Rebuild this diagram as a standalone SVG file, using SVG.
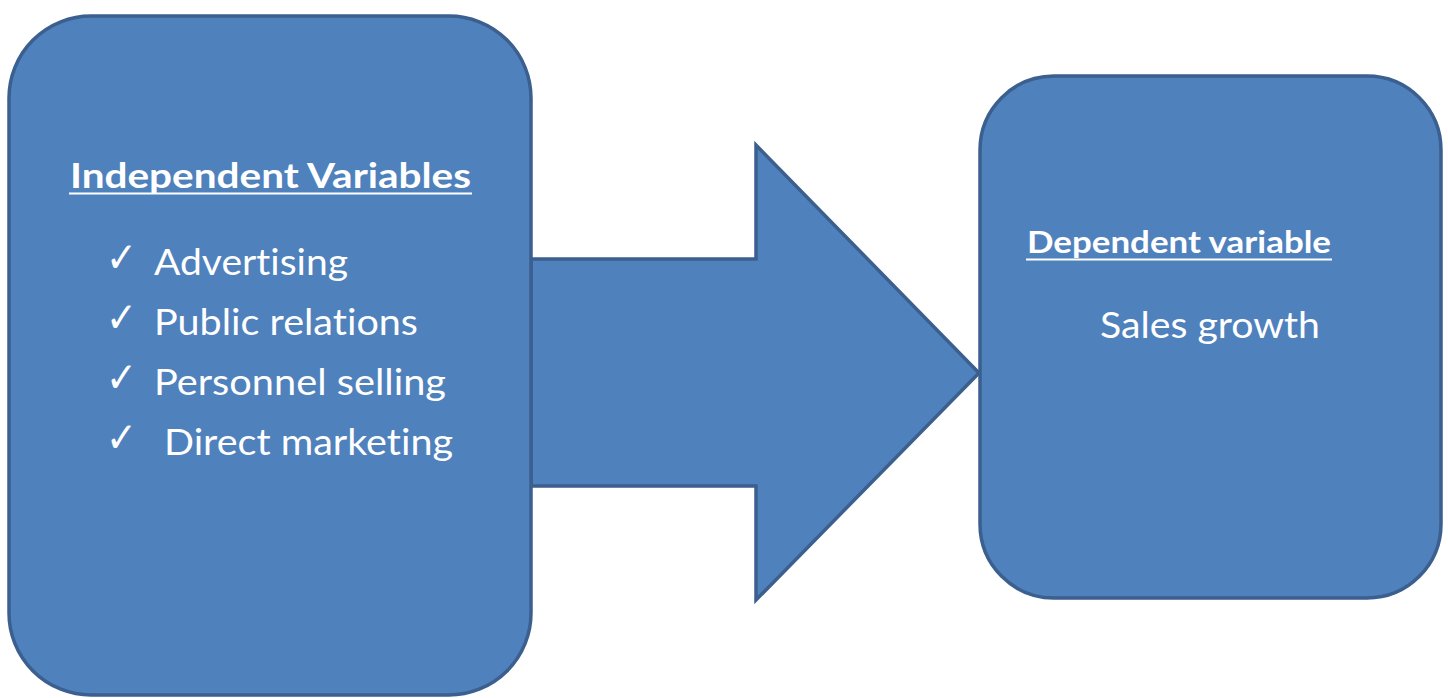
<svg xmlns="http://www.w3.org/2000/svg" width="1448" height="698" viewBox="0 0 1448 698">
  <style>
    .box { fill: #4f81bd; stroke: #3b5f8e; stroke-width: 3.5; }
    .label { fill: #ffffff; font-family: Lato, "Liberation Sans", sans-serif; font-variant-ligatures: none; font-feature-settings: "liga" 0, "clig" 0, "dlig" 0; }
    .head { font-weight: bold; }
    .item { font-size: 37px; }
    .tick { fill: #ffffff; font-family: "DejaVu Sans", sans-serif; font-size: 42px; }
    .rule { stroke: #ffffff; stroke-width: 2.2; }
  </style>
  <rect width="1448" height="698" fill="#ffffff"/>

  <!-- block arrow between the two boxes -->
  <g id="connectors">
    <polygon class="box" points="531,259 756,259 756,145 979,373 756,600 756,486 531,486"/>
  </g>

  <g id="independent">
    <rect class="box" x="9" y="16" width="522" height="679" rx="82" ry="82"/>
    <text class="label head" x="70" y="188" font-size="35" textLength="401" lengthAdjust="spacingAndGlyphs">Independent Variables</text>
    <line class="rule" x1="69" y1="193.5" x2="472" y2="193.5"/>
    <text class="tick" x="106" y="272" textLength="31" lengthAdjust="spacingAndGlyphs">✓</text>
    <text class="label item" x="154" y="275" textLength="194" lengthAdjust="spacingAndGlyphs">Advertising</text>
    <text class="tick" x="106" y="332" textLength="31" lengthAdjust="spacingAndGlyphs">✓</text>
    <text class="label item" x="154" y="335" textLength="264" lengthAdjust="spacingAndGlyphs">Public relations</text>
    <text class="tick" x="106" y="392" textLength="31" lengthAdjust="spacingAndGlyphs">✓</text>
    <text class="label item" x="154" y="395" textLength="292" lengthAdjust="spacingAndGlyphs">Personnel selling</text>
    <text class="tick" x="106" y="452" textLength="31" lengthAdjust="spacingAndGlyphs">✓</text>
    <text class="label item" x="164" y="455" textLength="289" lengthAdjust="spacingAndGlyphs">Direct marketing</text>
  </g>

  <g id="dependent">
    <rect class="box" x="980" y="76" width="461" height="522" rx="74" ry="74"/>
    <text class="label head" x="1027" y="253" font-size="30" textLength="304" lengthAdjust="spacingAndGlyphs">Dependent variable</text>
    <line class="rule" x1="1026" y1="259.5" x2="1332" y2="259.5"/>
    <text class="label item" x="1100" y="338" textLength="220" lengthAdjust="spacingAndGlyphs">Sales growth</text>
  </g>
</svg>
